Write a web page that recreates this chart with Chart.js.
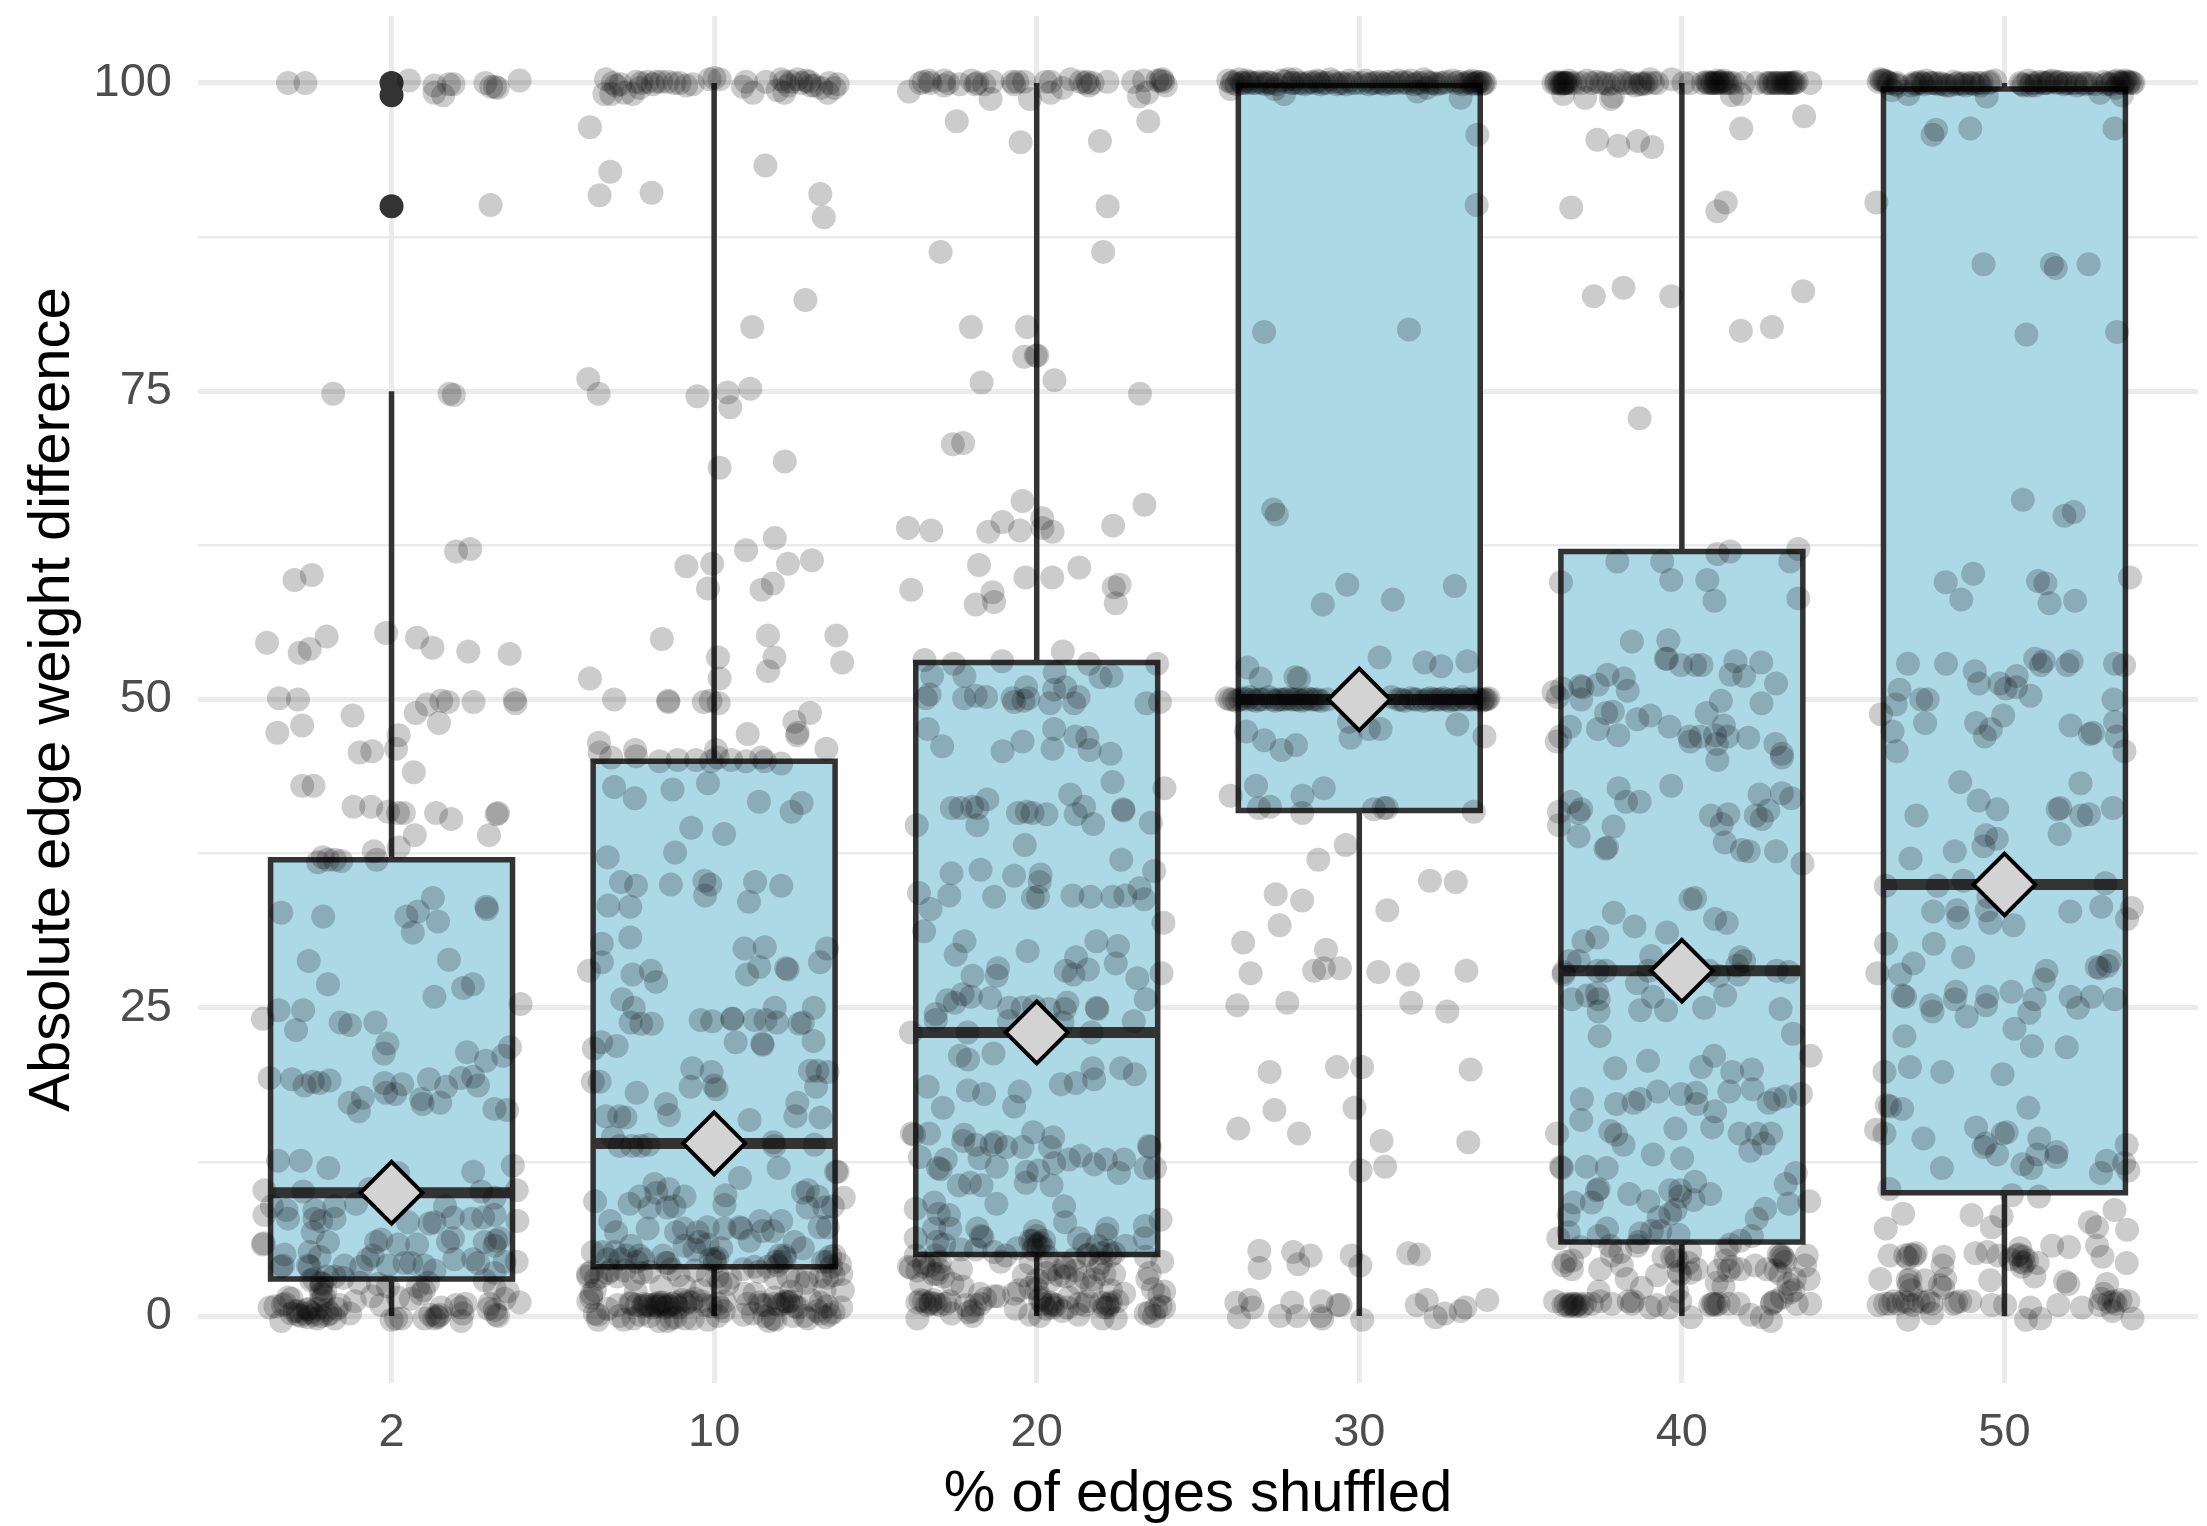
<!DOCTYPE html>
<html>
<head>
<meta charset="utf-8">
<script src="https://cdn.jsdelivr.net/npm/chart.js@4"></script>
<style>
  html, body { margin: 0; padding: 0; background: #fff; }
  canvas { display: block; }
</style>
</head>
<body>
<canvas id="chart" width="2207" height="1526"></canvas>
<script>
// categories and box stats
const categories = ['2', '10', '20', '30', '40', '50'];
const whiskerLow = [0, 0, 0, 0, 0, 0];
const q1 = [3, 4, 5, 41, 6, 10];
const medians = [10, 14, 23, 50, 28, 35];
const q3 = [37, 45, 53, 99.8, 62, 99.5];
const whiskerHigh = [75, 100, 100, 100, 100, 100];
const outliers2 = [100, 99, 90];
const yMajor = [0, 25, 50, 75, 100];
const yMinor = [12.5, 37.5, 62.5, 87.5];

// jittered observations: [offset from the category, value]
const jitter2 = [[-.321,100],[-.267,100],[.054,100.2],[.133,99.8],[.133,99.2],[.16,99],[.178,99.9],[.192,99.9],[.291,100],[.309,99.7],[.321,99.7],[.329,99.6],[.397,100.2],[.307,90.1],
[-.181,74.8],[.18,74.8],[.193,74.7],[.2,62],[.244,62.2],[-.301,59.7],[-.247,60.1],[-.386,54.6],[-.285,53.8],[-.254,54.1],[-.201,55.1],[-.017,55.4],[.079,55],[.127,54.2],[.238,53.9],[.366,53.7],
[-.349,50.1],[-.29,50],[.11,49.6],[.154,49.9],[.175,49.8],[.254,49.8],[.382,50],[.384,49.7],[-.121,48.7],[.075,48.9],[.147,48.1],[-.354,47.3],[-.277,47.9],[.022,47.1],
[-.099,45.7],[-.06,45.8],[.014,46],[.069,44.1],[-.277,43],[-.242,43],[-.118,41.3],[-.063,41.3],[-.011,40.9],[.02,40.8],[.038,40.8],[.138,40.8],[.185,40.3],[.33,40.8],[.326,40.7],[.072,39],[.302,39],
[-.055,37.7],[.022,38],[-.046,37],[-.228,36.8],[-.213,37.2],[-.197,37],[-.176,37],[-.156,36.9],[.128,33.9],[.082,32.8],[.046,32.4],[.144,32],[.066,31.1],[.294,33.2],[.296,33],[-.342,32.7],[-.212,32.4],
[.178,28.9],[-.257,28.8],[-.197,26.9],[.252,26.9],[.222,26.6],[.133,25.9],[.4,25.3],[-.35,24.8],[-.274,24.8],[-.399,24.1],[-.296,23.2],[-.158,23.8],[-.129,23.6],[-.05,23.8],[-.013,22.1],[-.024,21.3],[.234,21.4],[.292,20.7],[.346,21.1],[.367,21.8],
[-.378,19.3],[-.309,19.2],[-.27,18.7],[-.244,19],[-.223,18.9],[-.192,19.1],[-.022,18.9],[-.017,18.1],[.011,18],[.033,18.8],[.116,19.2],[.169,18.6],[.214,19.3],[.253,19.4],[.268,18.7],[-.13,17.3],[-.089,17.7],[-.101,16.6],[.092,17.6],[.096,17.2],[.151,17.3],[.319,16.8],[.358,16.7],
[-.352,12.6],[-.282,12.6],[-.196,12],[.02,11.6],[.253,11.7],[.376,12.2],[-.394,10.2],[-.274,10.1],[-.068,10.3],[.278,10.1],[.319,9.6],[.388,10.2],[-.371,8.9],[-.394,8.2],[-.326,8.6],[-.321,7.9],[-.239,8.6],[-.177,8.9],[-.177,7.9],[-.11,9.1],[-.239,7.9],[-.218,7.7],[-.244,6.8],
[.166,8.9],[.19,8],[.133,7.6],[.118,7.5],[.051,7.6],[.248,7.9],[.284,8],[.319,8.2],[.39,7.7],[-.197,6],[-.254,5.2],[-.396,5.9],[-.399,5.8],[-.332,5],[-.048,6],[-.032,6.2],[.02,5.8],[.079,5.8],[-.058,4.9],[.175,6],[.19,6.3],[.195,4.6],[.289,6],[.324,6.1],[.319,5.7],[.335,6.3],
[-.342,4],[-.337,4.1],[-.259,4.1],[-.223,4.8],[-.254,4],[-.146,4.1],[-.094,4],[-.073,4.6],[-.011,4.1],[.04,4.3],[.061,4.3],[.102,4.1],[.133,3.7],[.253,4.6],[.268,4.3],[.388,4.4],[.35,4.4],[.319,3.5],[-.177,3.2],[-.218,2.7],[-.249,2.9],[-.042,2.6],[-.011,2.4],[.082,2.4],[.113,2.7],[.289,2.9],[.319,2.3],
[-.32,1.5],[-.218,1.8],[-.218,1.3],[-.114,1.2],[-.337,.9],[-.378,.7],[-.259,.6],[-.31,.2],[-.279,0],[-.259,-.1],[-.218,0],[-.176,-.2],[-.129,.2],[-.342,-.4],[-.032,.9],[.02,1.5],[.014,-.2],[.102,-.2],[.133,-.2],[.143,-.1],[.154,.7],[.216,.7],[.216,-.4],[.23,1],[.304,1],[.324,.1],[.397,1.1],[.36,2],[-.25,.3],[-.23,-.2],[-.2,.5],[-.29,.4],
[-.31,1.4],[-.3,.4],[-.29,.1],[-.27,.2],[-.26,.5],[-.24,.1],[-.23,.6],[-.22,2.2],[-.215,2.6],[-.21,1.6],[-.205,2],[-.2,.1],[-.19,.2],[-.17,.6],[-.16,.9],[-.33,1],[-.36,.8],[.14,0],[.15,.1],[.12,.1],[.22,.2],[.2,.9],[.3,.6],[.32,.5],[.33,0],[.35,1.4],[.06,1.4],[0,-.3],[.03,-.2],[-.06,1.6],[.09,1.8],[.1,2.1],[-.24,3],[-.2,3.2],[-.15,3.1],[-.1,2.7]];

const jitter10 = [[-.335,100.3],[-.314,100],[-.304,99.8],[-.34,99.1],[-.319,99.1],[-.278,99.2],[-.252,99.1],[-.242,100.1],[-.226,100],[-.206,100.1],[-.18,100.1],[-.164,100.1],[-.144,100.1],[-.123,100],[-.107,100],[-.087,99.8],[-.066,99.9],[-.014,100.3],[.017,100.3],[.001,100.4],
[.099,100.1],[.089,99.7],[.161,100.1],[.12,99.2],[.208,100.3],[.218,100.1],[.239,100.1],[.259,100.3],[.285,100.2],[.295,100.1],[.311,99.8],[.197,99.4],[.218,99.2],[.352,99.2],[.357,100],[.383,99.9],[.332,99.6],[.373,99.6],[-.29,99.9],[-.23,99.6],[-.19,99.9],[.23,99.8],[.27,100],[.3,99.8],
[-.385,96.4],[-.322,92.8],[-.355,90.9],[-.194,91.1],[.159,93.3],[.329,91],[.34,89.1],[.283,82.4],[.118,80.2],[-.39,76],[-.358,74.8],[-.052,74.6],[.042,74.9],[.112,75.2],[.05,73.7],[.017,68.8],[.219,69.3],[.188,63.1],[.099,62.1],[-.086,60.8],[-.006,61],[.229,61],[.303,61.3],[-.019,59],[.182,59.4],[.147,58.9],
[-.162,54.9],[.167,55.2],[.379,55.2],[.012,53.4],[.187,53.4],[.397,53],[.017,51.7],[.167,52.3],[-.385,51.7],[-.31,50],[-.142,49.9],[-.142,49.8],[-.032,49.8],[-.011,49.9],[.014,49.7],[.249,48.2],[.297,48.9],[.259,47.3],[.257,47.1],[.104,47.2],[.348,46],[-.357,46.5],[-.245,45.9],[.006,45.9],
[-.355,45.7],[-.319,45.3],[-.242,45.4],[-.169,45],[-.113,45.1],[-.056,45.1],[-.009,45],[.011,45.3],[.053,45.1],[.099,45],[.146,45.3],[.208,44.8],[.157,45],
[-.31,42.9],[-.246,42],[-.129,42.7],[-.019,43.2],[.139,41.7],[.24,40.9],[.271,41.6],[-.071,39.6],[.031,39.1],[-.121,37.6],[-.33,37.2],[-.289,35.2],[-.242,34.9],[-.134,35],[-.03,35.3],[-.012,35],[-.028,34.1],[.127,35.2],[.208,34.9],[.108,33.6],[-.328,33.3],[-.26,33.2],
[-.26,30.7],[-.348,30.2],[-.348,28.7],[-.388,28],[-.253,27.7],[-.196,28],[-.18,27.1],[.094,29.8],[.157,29.9],[.14,28.3],[.102,27.7],[.223,28.2],[.228,28.1],[.328,28.7],[.35,29.8],[-.285,25.7],[-.249,25],[-.259,23.8],[-.226,23.7],[-.193,23.7],[-.042,24],[-.006,23.9],[.056,24.1],[.057,24.1],[.125,24],[.159,24],[.195,23.8],[.188,25],[.265,23.7],[.275,23.8],[.309,25],
[.308,22.3],[.067,22.2],[.149,22.1],[.151,22],[-.35,22.2],[-.373,21.7],[-.302,21.9],[-.376,19],[-.355,19],[-.068,20.1],[-.008,19.8],[-.073,18.6],[0,18.7],[.007,18.4],[.297,19.9],[.32,19.9],[.352,19.8],[.316,18.6],[-.24,18.1],[.258,17.3],[-.149,17.2],[-.14,16.3],[-.336,16.2],[-.294,16.2],[-.275,16.1],[.252,16.2],[.33,16.1],[.11,15.9],
[-.314,14.5],[-.293,13.8],[-.255,13.8],[-.228,13.8],[-.203,13.9],[.184,14.1],[.187,13.8],[.311,13.9],[.2,12],[.08,11.2],[.383,11.7],[.378,11.7],[.275,10],[.29,10.2],[.321,9.7],[.402,9.6],[.368,8.9],[.342,8.8],[.29,8.8],[.352,7.2],[.327,7.2],[.035,9.8],[.032,9],[-.369,9.3],[-.185,10.7],[-.231,9.7],[-.141,10.3],[-.092,9.7],[-.262,9.1],[-.2,8.8],[-.145,8.8],[-.179,10],[-.123,8.9],
[-.322,7.7],[-.304,6.8],[-.206,7.1],[-.118,6.8],[-.094,7.1],[-.051,6.8],[-.02,7.2],[.032,7.1],[.079,7.2],[.084,7.1],[.143,7.7],[.151,6.9],[.182,6.9],[.208,7.7],[.11,6.1],[.249,6],[-.092,5.7],[-.046,6],[-.061,5.4],[-.02,5.8],[.022,5.5],[.275,5.5],
[-.376,5.2],[-.345,5.2],[-.308,5.2],[-.257,5.7],[-.232,4.9],[-.273,4.9],[-.159,4.9],[-.143,4.3],[.001,4.6],[.003,4.4],[.208,4.4],[.202,4.9],[.337,4.4],[.373,4.9],[.218,4.9],[-.391,3.4],[-.366,3],[-.319,3.7],[-.278,3.7],[-.226,3.5],[-.133,3.8],[-.06,3.7],[.089,3.8],[.125,4],[.166,4],[.363,4],[.394,3.4],[.197,4.1],
[-.243,2],[-.164,2.4],[-.092,2.4],[-.04,2.1],[.042,2.6],[.094,1.8],[.125,1.8],[.187,1.5],[.228,1.2],[.239,2],[.285,2.7],[.342,2.1],[.399,2.1],[-.381,1.5],[-.37,2.1],
[-.299,.9],[-.257,1],[-.216,1],[-.18,1],[-.164,.9],[-.144,.9],[-.118,.9],[-.081,1.2],[-.04,1.2],[.011,1],[.032,1.2],[.104,1],[.146,.9],[.187,1],[.213,1],[.239,1.2],[-.2,.9],[-.17,1.1],[-.13,1],
[-.36,.1],[-.294,0],[-.2,0],[-.145,-.4],[-.133,-.2],[-.066,-.2],[.011,0],[.182,-.2],[.156,0],[.244,0],[.28,0],[.358,.1],[.394,.7],[.32,.4],
[-.26,1.1],[-.24,.9],[-.22,.8],[-.21,.9],[-.19,.7],[-.185,.9],[-.175,.8],[-.16,1.1],[-.15,.7],[-.14,.8],[-.12,1.1],[-.11,.7],[-.1,1.3],[-.09,1],[-.07,1.1],[-.06,1.4],[-.03,.9],[-.01,.8],[.02,.7],[.03,.4],[.14,1.1],[.16,.9],[.2,.9],[.22,1.2],[.23,1.1],[.25,.8],[.26,.7],[.3,1.3],[.33,1.1],[.35,.8],[.37,.3],[-.38,1.8],[-.39,1.2],[-.37,.2],[-.36,-.3],[-.33,.6],[-.28,-.3],[-.25,-.2],[-.23,.1],[-.17,-.4],[-.12,-.1],[-.09,-.2],[-.02,-.3],[.09,.1],[.12,.2],[.17,-.4],[.19,-.3],[.29,-.2],[.33,.2],[.345,-.1],
[-.39,3.2],[-.38,3.6],[-.35,3.2],[-.33,3.5],[-.3,3.2],[-.25,3],[-.2,3.6],[-.11,3.3],[-.02,3.3],[.01,3.2],[.02,2.7],[.05,3.1],[.14,3.6],[.19,3.1],[.23,3.2],[.26,2.9],[.29,3.2],[.33,3.2],[.35,3.1],[.37,3.3],[.39,4.2],[-.33,4.6],[-.29,4.6],[-.24,4.4],[-.22,4.6],[-.15,4.3],[-.01,4.6],[.01,4.7],[.19,4.4],[.22,4.7],[.35,4.4],[.36,4.8]];

const jitter20 = [[-.396,99.3],[-.36,100],[-.334,100.2],[-.329,100],[-.287,100.2],[-.287,99.8],[-.239,99.9],[-.202,100.2],[-.184,100],[-.143,98.7],[-.163,99.9],[-.137,100.1],[-.075,100.1],[-.06,100.1],[-.039,100.1],[-.021,98.7],[.028,100.1],[.043,100.1],[.043,99.2],[.08,99.6],[.105,100.3],[.136,100.1],[.157,100.1],[.162,99.8],[.173,100],[.219,100.1],[.299,100.1],[.317,98.9],[.333,100.2],[.343,99.2],[.389,100.3],[.4,99.8],[.374,100.2],[.384,100.2],[.392,100.1],[-.35,100.1],[-.275,100],[-.19,99.9],[-.07,99.9],[.15,100],
[-.248,96.9],[.346,96.9],[-.05,95.2],[.196,95.3],[.22,90],[-.298,86.3],[.206,86.3],[-.204,80.2],[-.03,80.2],[-.039,77.8],[-.003,77.9],[.002,77.9],[-.171,75.7],[.055,75.9],[.32,74.8],[-.26,70.7],[-.228,70.8],[-.044,66.1],[-.106,64.4],[-.15,63.6],[-.052,63.7],[.017,64.7],[.018,63.9],[.049,63.6],[.237,64.1],[.334,65.8],[-.399,63.9],[-.327,63.7],[-.179,60.9],[-.035,59.9],[.048,59.9],[.132,60.7],[-.389,58.9],[-.137,58.7],[-.132,57.9],[-.189,57.7],[.239,59.1],[.257,59.3],[.245,57.8],
[-.348,53.2],[-.257,52.9],[-.324,51.9],[-.224,51.9],[-.107,53.1],[.081,53.9],[.056,52.2],[.162,52.9],[.198,51.8],[.232,51.9],[.373,52.9],[-.033,51],[.054,50.8],[.088,51],[-.332,50.4],[-.344,50.1],[-.225,50.1],[-.189,50.3],[-.157,50.2],[-.075,50.1],[-.07,49.8],[-.041,49.9],[-.026,50.1],[.041,49.7],[.116,49.7],[.13,50.2],[.34,49.7],[.382,49.8],[-.338,47.6],[-.293,46.2],[-.106,45.8],[-.044,46.6],[.054,47.6],[.049,46],[.12,47],[.157,46.9],[.164,45.9],[.229,45.6],
[-.263,41.2],[-.236,41.2],[-.2,41.3],[-.184,41.2],[-.153,41.9],[-.184,39.8],[-.058,40.8],[-.031,40.9],[-.013,40.8],[.03,40.7],[.104,42.3],[.147,41.3],[.121,40.7],[.175,39.9],[.235,43.3],[.269,41],[.268,41.1],[.354,40],[.396,42.8],[-.372,39.8],[-.037,38.2],[.262,37],[.364,36.1],[-.264,35.9],[-.174,36.2],[-.07,35.7],[.012,35.8],[.009,35.2],[-.365,34.3],[-.271,34.1],[-.132,34],[-.012,33.9],[.004,34],[.111,34.1],[.167,34],[.235,34],[.275,34.1],[.319,34.7],[.333,33.8],[-.329,33],[-.349,31.2],[.393,31.9],
[-.224,30.4],[-.251,29.3],[-.028,29.6],[.185,30.4],[.252,30],[.245,28.6],[.122,29.1],[.09,28],[.114,27.7],[.159,28.1],[.312,27.4],[.387,27.8],[-.12,28.2],[-.124,27.6],[-.199,27.6],[-.23,26.1],[-.204,25.9],[-.144,25.8],[-.277,25.6],[-.254,25.4],[-.313,24.5],[-.313,24],[-.086,25],[-.044,25],[-.008,25.1],[.038,24.9],[.095,25.4],[.087,24.9],[.08,23.8],[-.086,23.9],[.186,25],[.188,24.9],[.338,25.7],[.301,23.9],[.17,23],[-.214,23],[-.39,23],
[-.238,21.1],[-.213,20.8],[-.134,21.3],[.173,20.1],[.178,19.2],[.262,20.1],[.304,19.6],[.121,18.9],[.075,18.8],[-.338,18.6],[-.213,18.3],[-.163,18],[-.053,18.2],[-.07,17],[-.291,16.9],[-.387,14.8],[-.38,14.7],[-.334,14.8],[-.225,14.7],[-.228,14.2],[-.189,13.9],[-.14,13.9],[-.127,14.1],[-.095,13.7],[-.044,13.7],[-.011,14.9],[.051,14.5],[.041,13.7],
[-.362,12.9],[-.282,12.7],[-.306,12],[-.298,11.9],[-.177,12.8],[-.124,12.1],[-.031,11.7],[.005,11.8],[-.034,10.8],[-.241,10.6],[-.207,10.8],[-.171,10.6],[.046,10.6],[.054,12.4],[.1,12.7],[.136,13],[.178,12.3],[.214,12.7],[.255,11.6],[.271,12.7],[.348,13.8],[.351,13.7],[.338,12],[.367,12],
[-.318,9.2],[-.375,8.7],[-.125,9.1],[.085,8.9],[-.304,8.3],[-.272,8.2],[.088,7.6],[.384,7.8],[-.318,7.1],[-.268,7.1],[-.184,7.1],[-.173,6.5],[-.168,6.4],[.335,7.3],[-.375,6.3],[-.308,6],[-.287,5.8],[-.006,6.9],[-.013,6.1],[.023,6.1],[-.003,5.8],[.131,6.3],[.147,5.8],[.219,7.1],[.214,6.6],[.188,5.7],[.276,5.7],[.335,6.3],
[-.375,4.9],[-.313,4.9],[-.396,4],[-.349,4],[-.303,3.8],[-.235,5.4],[-.189,5.4],[-.132,5.2],[-.096,4.9],[-.06,5.5],[-.235,3.8],[-.112,4.4],[-.019,4.3],[.033,4.8],[.085,4],[.116,4.6],[.157,4.9],[.229,4.9],[.198,4.3],[.338,4.8],[.389,4.4],[.343,3],[-.358,2.6],[-.308,3.4],[-.261,2.6],[-.23,2.4],[.002,2.9],[.043,2.9],[.09,3.2],[.126,2.7],[.178,3],[.24,3.4],[.271,1.8],[.395,2],[-.055,2.1],[-.132,1.6],[-.176,1.8],
[-.349,1.2],[-.329,1],[-.313,1],[-.282,1],[-.174,1],[-.199,.4],[.012,1.5],[.043,.9],[.049,1],[.095,.7],[.157,1.2],[.219,1],[.224,.9],[.384,.8],[.395,.7],[-.37,-.2],[-.264,.2],[-.199,0],[-.065,.6],[.01,0],[.204,-.2],[.245,-.2],[.338,.2],[.364,0],
[-.02,6.1],[0,6.5],[.01,5.9],[.02,5.5],[-.01,5.4],[.005,5.7],[-.37,1.1],[-.36,1.3],[-.34,.9],[-.33,1.1],[-.32,1.3],[-.3,.9],[-.39,3.9],[-.37,3.7],[-.35,4.3],[-.33,4.1],[-.32,3.4],[-.3,4.4],[-.29,3.2],[.02,1],[.03,.6],[.04,1.1],[.05,.7],[.06,.9],[.2,1.1],[.21,.7],[.22,.7],[.23,1.1],[.03,3.5],[.05,3.8],[.07,3.3],[.09,3.9],[.12,3.7],[.15,3.1],[.17,2.4],[.19,3.8],[.21,3.4],[.23,2.1],[.25,1.2],[.16,5],[.2,5.1],[.22,5.3],[.24,5.1],[.35,3.5],[.36,2.2],[.38,1.7],[.37,.6],[.35,.3],[.1,1.5],[.13,1],[-.04,3.3],[-.02,2.3],[0,2.2],[.01,1.3],[-.02,.1],[.08,.4],[.13,.1],[.15,.9],[-.27,1.2],[-.22,.9],[-.21,.3],[-.19,.9],[-.16,1.4],[-.12,1.6],[-.07,1.8]];

const jitter30 = [[-.406,100.2],[-.39,100.1],[-.372,100.3],[-.36,100],[-.35,100.2],[-.33,100],[-.31,100.1],[-.29,99.9],[-.27,100],[-.24,100.2],[-.22,100.3],[-.2,100.3],[-.19,100],[-.17,99.9],[-.15,100.1],[-.13,100.2],[-.11,100],[-.09,100.3],[-.07,99.9],[-.05,100],[-.03,100.2],[-.01,100],[.02,100.2],[.04,100],[.06,100.1],[.08,99.9],[.1,100],[.12,100.2],[.14,100.1],[.16,100.2],[.18,100],[.2,100.3],[.22,100],[.24,99.9],[.26,100],[.29,100.2],[.31,100.1],[.33,100],[.35,100.2],[.36,100],[.37,100.1],[.38,99.9],[.39,100],[-.38,99.9],[-.345,100],[-.285,100.1],[-.205,100],[-.125,100.1],[.15,100],[.3,100],[.345,100],[.375,100.1],
[-.395,100],[-.365,100],[-.34,100.1],[-.32,100],[-.3,100],[-.28,100],[-.255,99.9],[-.23,100.1],[-.21,100],[-.18,100],[-.16,100],[-.14,100],[-.12,99.9],[-.1,100],[-.08,100.1],[-.06,100],[-.04,99.9],[-.02,100],[.01,100],[.03,99.9],[.05,100],[.07,100],[.09,100.1],[.11,100],[.13,100],[.17,99.9],[.19,100],[.21,100.1],[.23,100],[.25,100],[.27,100.1],[.32,99.9],[.34,100.1],[.355,99.9],[.365,100],[.385,100],
[-.399,99.5],[-.233,99.1],[.18,99.3],[.314,98.8],[-.262,99.5],[.21,99.6],[.366,95.8],[.364,90.1],[-.295,79.8],[.154,80],[-.267,65.4],[-.256,65],[-.113,57.7],[-.037,59.3],[.104,58.1],[.296,59.2],[-.347,52.6],[-.306,51.7],[-.198,51.8],[-.187,51.7],[.063,53.4],[.202,53],[.254,52.7],[.335,53.1],
[-.41,50.1],[-.4,50],[-.38,49.9],[-.36,50.1],[-.34,50.2],[-.32,49.9],[-.3,50],[-.28,50.2],[-.26,49.9],[-.24,50],[-.22,50.1],[-.2,50],[-.18,49.9],[-.16,50.1],[-.14,50],[-.12,49.9],[-.1,50],[.1,50.2],[.12,50],[.14,49.9],[.16,50.1],[.18,50],[.2,49.9],[.22,50.1],[.24,50],[.26,50.1],[.28,49.9],[.3,50],[.32,50.2],[.34,50],[.36,50.1],[.38,49.9],[.39,50],[.4,50.1],[-.27,50],[.27,50],[.37,50],
[-.39,50],[-.37,50],[-.35,50],[-.33,50],[-.31,50],[-.25,50],[-.23,50],[-.21,50],[-.19,50],[-.17,50],[-.15,50],[-.13,50],[.13,50],[.17,50],[.21,50],[.23,50],[.25,50],[.29,50],[.31,50],[.33,50],[.35,50],[.385,50],[.395,50],
[-.032,48.2],[-.027,46.9],[.03,47.6],[.066,47.6],[-.351,47.4],[-.295,46.7],[-.241,45.9],[-.196,46.3],[.304,48],[.388,47],[-.32,43],[-.399,42.2],[-.176,42.2],[-.11,42.8],[-.311,41.2],[-.277,41.3],[-.177,40.8],[.045,41.1],[.076,41.2],[.085,41.2],[.355,40.9],[-.042,38.2],[-.127,37],
[-.259,34.2],[-.177,33.7],[-.247,31.7],[.087,32.9],[.219,35.3],[.299,35.2],[-.36,30.3],[-.337,27.8],[-.103,29.7],[-.14,28],[-.11,28.2],[-.06,28.2],[.059,27.9],[.151,27.7],[.332,28],[-.378,25.2],[-.223,25.4],[.161,25.4],[.273,24.7],[-.278,19.8],[-.069,20.2],[.009,20.2],[.345,20],[-.263,16.7],[-.015,16.9],[-.375,15.2],[-.187,14.8],[.069,14.2],[.338,14.1],[.004,11.8],[.08,12.1],
[-.31,5.3],[-.205,5.2],[-.151,4.9],[-.024,4.9],[.152,5.1],[.185,5],[-.309,3.9],[-.189,4.2],[.003,4.1],[-.381,1.1],[-.339,1.3],[-.331,.7],[-.208,1.1],[-.117,1.2],[-.066,.9],[-.058,.9],[.178,.9],[.209,1.3],[.397,1.3],[.329,.7],[.314,.4],[.265,.2],[.237,-.1],[.009,-.3],[-.373,-.1],[-.246,0],[-.192,0],[-.12,0],[-.115,-.2]];

const jitter40 = [[-.398,100],[-.387,100.1],[-.372,99.9],[-.362,100],[-.351,100.2],[-.331,100],[-.294,100.2],[-.263,100.1],[-.227,99.9],[-.191,100.2],[-.165,100],[-.145,99.8],[-.119,99.9],[-.098,100.3],[-.077,100],[-.031,100.3],[.005,100],[.026,100],[.077,100.1],[.093,100],[.108,100.2],[.129,100.2],[.15,100],[.16,100],[.191,100],[.232,100],[.263,100],[.289,100],[.315,100],[.336,100],[.356,100.1],[.398,100],
[-.39,100],[-.38,100],[-.368,100],[-.355,100],[-.31,100],[-.24,100],[-.18,100],[-.13,99.9],[-.11,100],[.085,100],[.1,100],[.112,100],[.12,100.1],[.14,100],[.275,100],[.3,100],[.322,100],[.33,100],[.345,100],[.065,100],
[-.375,100],[-.365,100],[-.36,100],[-.345,100],[-.28,100],[-.25,100],[-.21,100],[-.155,100],[-.125,100],[-.09,100],[.08,100],[.095,100],[.105,100],[.115,100],[.125,100],[.135,100],[.27,100],[.285,100],[.295,100],[.31,100],[.325,100],[.34,100],[.35,100],
[-.368,99.1],[-.3,98.8],[-.22,98.7],[-.214,98.9],[.155,99],[.181,99.1],[.379,97.3],[.184,96.3],[-.262,95.4],[-.197,94.9],[-.136,95.3],[-.092,94.8],[-.343,89.9],[.136,90.3],[.11,89.6],[-.273,82.7],[-.181,83.4],[-.033,82.7],[.376,83.1],[.183,79.9],[.279,80.2],[-.131,72.8],
[.361,62.2],[.336,61.2],[-.2,61.2],[-.061,61.2],[.11,61.8],[.15,62],[-.375,59.5],[-.033,59.7],[.079,59.7],[.101,58],[.361,58.2],[-.155,54.7],[-.042,54.8],[-.046,53.3],[-.05,53.3],[-.003,52.8],[.041,52.8],[.061,52.8],[.166,53.1],[.246,53],[.151,52],[.193,51.9],[.292,51.3],[-.23,52],[-.18,51.7],[-.315,51.1],[-.308,51],[-.261,51.2],[-.168,50.7],[-.398,50.6],[-.372,50.9],[-.385,50.2],[-.312,50],[.121,49.9],[.247,49.7],[-.214,49],[-.235,48.9],[-.138,48.4],[-.098,48.7],[.077,48.9],[.13,47.9],[-.038,47.8],[-.347,47.8],[-.26,47.6],[-.197,47.1],[-.377,47],[-.388,46.6],[.023,47],[.057,47],[.103,47.1],[.142,47],[.206,46.9],[.29,46.4],[.026,46.6],[.108,46.4],[.31,45.6],
[-.033,43],[-.196,42.8],[-.173,41.7],[-.131,41.7],[-.381,40.9],[-.381,39.8],[-.343,41.7],[-.312,41.1],[-.32,40.8],[-.32,38.9],[-.212,39.7],[-.237,37.9],[-.232,38],[.09,40.6],[.144,40.7],[.124,39.9],[.241,42.3],[.31,42.4],[.339,42],[.268,41],[.229,40.6],[.248,40.3],[.133,38.4],[.186,37.8],[.207,37.7],[.292,37.7],[.374,36.7],[.11,45.1],[.31,45.3],
[.041,33.9],[.027,33.8],[-.211,32.7],[-.147,31.6],[.103,32.2],[.139,31.9],[-.046,31.1],[-.305,30.4],[-.262,30.7],[.181,29.1],[.193,28.8],[-.348,28.8],[-.32,28.8],[-.366,27.9],[-.367,27.7],[-.261,28],[-.237,28],[-.095,29.2],[-.139,27],[-.103,28],[.083,28],[.114,27.6],[.171,28.4],[.176,27.7],[.294,28],[.331,27.9],[-.341,25.7],[-.294,26],[-.263,26.2],[-.258,25.7],[-.258,24.7],[-.129,24.8],[-.09,25.9],[-.049,24.8],[.069,25],[.134,26],[.306,24.9],[-.255,22.7],[.344,22.9],
[-.207,20.1],[-.105,20.7],[.1,21.1],[.06,20.2],[.156,19.8],[.217,20],[.399,21.1],[-.31,17.6],[-.312,15.9],[-.204,17.2],[-.15,17.3],[-.129,17.6],[-.074,18.2],[-.003,18],[.044,18.1],[.046,17.2],[.147,18.2],[.219,18.4],[.269,17.3],[.289,17.6],[.32,17.8],[.369,18],[.103,16.6],[.094,15.3],[-.02,15.2],[-.387,14.8],[-.222,15],[-.204,14.7],[-.181,13.9],[.179,14.8],[.232,14.8],[.277,14.8],[.254,14],[.212,13.4],[-.09,13.1],[.001,12.8],
[-.375,12.1],[-.372,12],[-.296,12.1],[-.233,12],[.353,11.6],[.322,10.7],[.041,10.9],[-.036,10.2],[-.005,10.2],[.088,9.9],[-.263,10.2],[-.258,10.3],[-.163,9.9],[-.104,9.3],[-.005,9.7],[.036,9.4],[.395,9.3],[.331,9.1],[-.336,9.2],[-.279,9.2],[-.02,8.6],[.258,8.7],[.232,7.9],[-.351,8.2],[-.072,8],[-.036,8.3],[-.383,6.3],[-.351,6.8],[-.232,7.1],[-.258,6.5],[-.129,6.7],[-.093,6.9],[-.067,6.9],[-.01,6.6],[-.134,6],[.15,5.8],[.181,6.1],[.217,6.5],
[-.315,5.6],[-.222,5.7],[-.191,5.2],[-.139,5.7],[-.057,4.8],[-.02,4.9],[.026,5.2],[.139,5.4],[.31,4.9],[.305,4.8],[.387,4.9],[-.367,4.1],[-.341,3.8],[-.253,3.8],[-.186,4.1],[-.217,4.9],[.114,3.7],[.155,4],[.181,3.8],[.227,4.1],[.263,3.8],[.382,4.1],[.393,3],[-.077,3.3],[-.171,3],[-.124,2.3],[-.005,3.4],[.026,3.5],[.046,3.8],[.108,2.7],[.129,2.4],[.305,3.4],[.346,2.1],[-.258,2],[-.015,2],
[-.393,1.2],[-.367,.9],[-.351,.8],[-.331,.8],[-.31,.8],[-.279,1],[-.253,1.2],[-.217,1],[-.165,1.2],[-.15,1.2],[-.077,.9],[-.041,.7],[-.005,1.2],[.088,.9],[.114,1],[.145,1],[.176,1],[.279,1],[.289,1.2],[.356,1],[.398,1],[-.098,.7],[-.36,1],[-.34,1],[-.32,1],[-.155,1],[.1,1],[.028,-.1],[.212,.1],[.248,-.1],[.276,-.4],
[-.345,.9],[-.335,1],[-.325,.9],[-.3,1],[.095,1],[.105,.9],[.28,1.1],[-.015,4.5],[-.03,4.8],[-.01,3.6],[.02,4.3],[.3,5],[.315,4.7],[.32,4.4],[.29,3.7],[.135,4.5],[.145,3.7],[-.36,4.4],[-.34,4.5],[.31,1.5],[.33,2.6],[.335,1.9],[.35,3]];

const jitter50 = [[-.385,100.3],[-.375,100.2],[-.365,100.1],[-.349,99.4],[-.334,100],[-.298,99.1],[-.282,100],[-.261,100.1],[-.241,100.2],[-.215,100],[-.189,99.9],[-.158,100.1],[-.132,99.9],[-.106,100],[-.081,100],[-.055,98.9],[-.029,100.2],[.049,100],[.074,100.2],[.095,99.8],[.121,100],[.147,100.2],[.173,100.1],[.198,100],[.224,99.8],[.255,100],[.296,99.2],[.307,100.1],[.338,100.1],[.364,99],[.374,100.2],[.389,100.1],[.4,100],
[-.38,100.2],[-.36,100],[-.34,99.9],[-.275,99.9],[-.25,99.9],[-.225,100],[-.2,100],[-.17,99.8],[-.145,100],[-.12,99.8],[-.095,99.9],[-.07,100],[-.045,100.1],[.06,99.8],[.085,100],[.11,100.1],[.135,100],[.16,100.1],[.185,99.9],[.21,100],[.24,100],[.27,100],[.32,100],[.35,100.2],[.36,100.1],[.37,100],[.38,100.1],[.345,99.6],
[-.39,100.1],[-.37,100.2],[-.355,100],[-.33,99.8],[-.29,99.8],[-.27,100],[-.255,100],[-.23,100],[-.205,99.9],[-.18,99.8],[-.15,99.9],[-.125,100],[-.1,100],[-.075,99.8],[-.05,100],[.055,99.9],[.08,99.8],[.1,100],[.125,100],[.14,100.1],[.165,100],[.19,100],[.22,100],[.25,99.9],[.28,99.9],[.315,99.9],[.33,99.9],[.355,100],[.365,100],[.385,100],[.395,100],
[-.223,95.8],[-.212,96.2],[-.106,96.3],[.341,96.3],[-.397,90.3],[-.065,85.3],[.147,85.3],[.159,85],[.261,85.3],[.068,79.6],[.349,79.8],[.057,66.2],[.186,64.9],[.215,65.2],[.389,59.9],[-.097,60.2],[-.182,59.5],[-.134,58.1],[.104,59.6],[.127,59.4],[.14,57.8],[.219,58],
[-.299,52.9],[-.181,52.9],[-.092,52.3],[-.079,51.3],[-.015,51.3],[.004,50.9],[.038,51.9],[.036,51],[.081,50.3],[.095,53.3],[.122,53.1],[.113,52.8],[.195,52.8],[.208,53.1],[.343,52.9],[.371,52.8],[-.325,50.8],[-.337,49.6],[-.258,50],[-.238,50],[-.383,48.8],[.338,50],[-.246,48.1],[-.088,48.1],[-.004,48.7],[-.042,47.6],[-.061,47],[.205,47.9],[.265,47.2],[.274,47.3],[.343,48.2],[.348,47],[-.347,47.4],[-.334,45.8],[.372,45.8],
[-.137,43.3],[-.08,41.8],[-.022,41.1],[-.273,40.6],[.236,43.2],[.173,41.2],[.165,41.1],[.238,40.6],[.262,40.7],[.336,41.2],[.171,39.1],[-.057,39],[-.024,38.7],[-.065,38.1],[-.154,37.7],[-.291,37.1],[-.127,35.3],[-.207,34.9],[-.368,34.9],[.313,35.1],[-.05,34],[.3,33.2],[.395,33.1],[.38,32.2],[.204,32.8],[-.221,32.8],[-.147,32.9],[-.143,32.3],[-.055,32.9],[-.044,31.9],[.028,31.7],
[-.367,30.2],[-.219,30.2],[-.128,29.1],[-.282,28.6],[-.323,27.7],[-.394,27.8],[.13,28],[.122,27.3],[.286,28.3],[.296,28.2],[.319,28.4],[.327,28.8],[-.315,26],[-.308,25.9],[-.227,25.2],[-.223,24.7],[-.15,26.3],[-.154,25.7],[-.117,24.3],[-.053,25.9],[-.057,25.2],[.022,26.3],[.093,25.7],[.077,24.6],[.205,25.9],[.271,25.9],[.342,25.7],[.228,25],[.031,23.3],[.085,21.9],[.193,21.8],[-.31,22.7],
[-.293,20.2],[-.372,19.8],[-.193,19.8],[-.006,19.6],[-.365,17.1],[-.354,17],[-.317,16.8],[.074,16.9],[-.088,15.3],[.007,14.9],[-.005,14.8],[-.058,14],[-.065,13.7],[-.023,13.1],[-.398,15.1],[-.372,14.8],[-.251,14.4],[.108,14.4],[.102,13.1],[.162,13.3],[.16,12.9],[-.194,12],[.056,12.3],[.083,12],[.379,13.9],[.317,12.6],[.299,11.6],[.371,12.4],[.384,11.8],
[-.357,10.3],[.023,9.8],[.107,9.7],[-.314,8.3],[-.368,7.1],[-.102,8.2],[-.009,8.1],[-.039,7.2],[.265,7.6],[.287,7.2],[.341,8.6],[.38,7],[-.356,4.9],[-.308,4.9],[-.292,5],[-.275,5.1],[-.188,4.8],[-.192,4.1],[-.09,5.1],[-.053,5.2],[-.019,4.9],[.018,4.6],[.049,5.5],[.059,4.8],[.054,4],[.103,4.3],[.093,3.2],[.148,5.7],[.2,5.6],[.287,5.7],[.304,4.8],[.379,4.3],
[-.385,3],[-.292,3],[-.297,2.5],[-.246,2.9],[-.184,3],[-.044,2.9],[.188,2.8],[.198,2.6],[.318,2.6],[.307,1.8],[-.39,.9],[-.37,1],[-.344,1.2],[-.312,1.2],[-.267,1.2],[-.236,1.2],[-.158,1],[-.137,1.2],[-.106,1.2],[-.039,.9],[.002,.9],[.08,.7],[.167,.9],[.24,.7],[.296,.9],[.338,1.2],[.384,1.2],[-.355,1],[-.33,1],[-.25,1.1],[-.225,.2],[-.299,-.3],[.067,-.3],[.111,-.2],[.335,.4],[.397,-.2],
[-.3,4.7],[-.28,4.9],[.04,4.9],[.05,4.4],[.06,4.3],[.07,4.5],[.045,5],[-.3,2.9],[-.29,2.1],[-.2,2.5],[-.19,2.3],[-.3,1.1],[-.285,.9],[-.225,1],[-.15,1.1],[.3,1.4],[.325,1.1],[.345,1],[.36,1.3]];

const jitterGroups = [jitter2, jitter10, jitter20, jitter30, jitter40, jitter50];

const boxHalf = 0.375;
const datasets = [];

categories.forEach((c, i) => {
  // box with its fill
  datasets.push({
    data: [
      { x: i - boxHalf, y: q1[i] },
      { x: i + boxHalf, y: q1[i] },
      { x: i + boxHalf, y: q3[i] },
      { x: i - boxHalf, y: q3[i] },
      { x: i - boxHalf, y: q1[i] }
    ],
    showLine: true, fill: 'shape', backgroundColor: '#add8e6',
    borderColor: '#333333', borderWidth: 5.5, borderCapStyle: 'square',
    borderJoinStyle: 'miter', pointRadius: 0, order: 5
  });
  // median
  datasets.push({
    data: [{ x: i - boxHalf, y: medians[i] }, { x: i + boxHalf, y: medians[i] }],
    showLine: true, borderColor: '#333333', borderWidth: 11, pointRadius: 0, order: 4
  });
  // whiskers
  datasets.push({
    data: [{ x: i, y: q3[i] }, { x: i, y: whiskerHigh[i] }],
    showLine: true, borderColor: '#333333', borderWidth: 5.5, pointRadius: 0, order: 4
  });
  datasets.push({
    data: [{ x: i, y: whiskerLow[i] }, { x: i, y: q1[i] }],
    showLine: true, borderColor: '#333333', borderWidth: 5.5, pointRadius: 0, order: 4
  });
});

// outliers only exist for the first group
datasets.push({
  data: outliers2.map(v => ({ x: 0, y: v })),
  pointRadius: 12, backgroundColor: '#333333', borderWidth: 0, order: 3
});

jitterGroups.forEach((pts, i) => {
  datasets.push({
    data: pts.map(p => ({ x: i + p[0], y: p[1] })),
    pointRadius: 12, backgroundColor: 'rgba(0,0,0,0.2)', borderWidth: 0, order: 2
  });
});

// diamonds on the median
datasets.push({
  data: medians.map((m, i) => ({ x: i, y: m })),
  pointStyle: 'rectRot', pointRadius: 31, backgroundColor: '#d3d3d3',
  borderColor: '#000000', borderWidth: 4, order: 1
});

const gridWidth = ctx => (yMinor.includes(ctx.tick.value) ? 2.5 : 5);

// the tick labels must not push the panel inwards
const noScalePadding = scale => {
  scale.paddingTop = 0;
  scale.paddingBottom = 0;
  scale.paddingLeft = 0;
  scale.paddingRight = 0;
};

new Chart(document.getElementById('chart'), {
  type: 'scatter',
  data: { datasets },
  options: {
    responsive: false,
    animation: false,
    layout: { autoPadding: false, padding: { top: 16, right: 9, left: 0, bottom: 0 } },
    plugins: { legend: { display: false }, tooltip: { enabled: false } },
    elements: { line: { tension: 0 } },
    scales: {
      x: {
        type: 'linear',
        min: -0.6,
        max: 5.6,
        afterBuildTicks: scale => { scale.ticks = categories.map((c, i) => ({ value: i })); },
        afterFit: scale => { scale.height = 143; noScalePadding(scale); },
        grid: { color: '#ebebeb', lineWidth: 5, drawTicks: false },
        border: { display: false },
        ticks: {
          autoSkip: false, maxRotation: 0, padding: 22, color: '#4d4d4d',
          font: { family: 'Liberation Sans', size: 47 },
          callback: v => categories[v]
        },
        title: {
          display: true, text: '% of edges shuffled', color: '#000000',
          font: { family: 'Liberation Sans', size: 58 },
          padding: { top: 0, bottom: -4 }
        }
      },
      y: {
        type: 'linear',
        min: -5.43,
        max: 105.43,
        afterBuildTicks: scale => {
          scale.ticks = yMajor.concat(yMinor).map(v => ({ value: v }));
        },
        afterFit: scale => { scale.width = 198; noScalePadding(scale); },
        grid: { color: '#ebebeb', lineWidth: gridWidth, drawTicks: false },
        border: { display: false },
        ticks: {
          autoSkip: false, padding: 26, color: '#4d4d4d',
          font: { family: 'Liberation Sans', size: 47 },
          callback: v => (yMajor.includes(v) ? String(v) : '')
        },
        title: {
          display: true, text: 'Absolute edge weight difference', color: '#000000',
          font: { family: 'Liberation Sans', size: 58 },
          padding: { top: 18, bottom: 0 }
        }
      }
    }
  }
});
</script>
</body>
</html>
